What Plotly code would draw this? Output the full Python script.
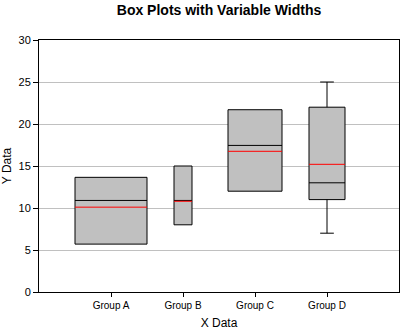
import plotly.graph_objects as go

# Summary statistics for each group
groups = ["Group A", "Group B", "Group C", "Group D"]
positions = [1, 2, 3, 4]
box_widths = [1.0, 0.25, 0.75, 0.5]
q1 = [5.7, 8.0, 12.0, 11.0]
medians = [10.9, 10.9, 17.45, 13.0]
q3 = [13.65, 15.0, 21.7, 22.0]
lower_whisker = [5.7, 8.0, 12.0, 7.0]
upper_whisker = [13.65, 15.0, 21.7, 25.0]
means = [10.1, 10.8, 16.75, 15.2]

fig = go.Figure()

for i, name in enumerate(groups):
    has_whiskers = lower_whisker[i] < q1[i] or upper_whisker[i] > q3[i]
    fig.add_trace(go.Box(
        name=name,
        x=[positions[i]],
        q1=[q1[i]],
        median=[medians[i]],
        q3=[q3[i]],
        lowerfence=[lower_whisker[i]],
        upperfence=[upper_whisker[i]],
        width=box_widths[i],
        whiskerwidth=0.38 if has_whiskers else 0,
        fillcolor="#c0c0c0",
        line=dict(color="black", width=1),
        boxpoints=False,
        showlegend=False,
        hoverinfo="skip",
    ))

# Mean lines drawn in red across each box
for i, name in enumerate(groups):
    half = box_widths[i] / 2
    fig.add_trace(go.Scatter(
        x=[positions[i] - half, positions[i] + half],
        y=[means[i], means[i]],
        mode="lines",
        line=dict(color="red", width=1),
        showlegend=False,
        hoverinfo="skip",
    ))

fig.update_layout(
    width=400,
    height=331,
    margin=dict(l=39, r=1, t=40, b=39),
    paper_bgcolor="white",
    plot_bgcolor="white",
    boxmode="overlay",
    font=dict(family="Arial, Liberation Sans, sans-serif", color="black"),
    title=dict(
        text="<b>Box Plots with Variable Widths</b>",
        font=dict(size=14, color="black"),
        x=0.5475, xanchor="center",
        y=0.985, yanchor="top",
    ),
    xaxis=dict(
        range=[0, 5],
        tickmode="array",
        tickvals=positions,
        ticktext=groups,
        tickfont=dict(size=10),
        ticks="outside",
        ticklen=4,
        tickcolor="black",
        showline=True,
        linecolor="black",
        linewidth=1,
        mirror=True,
        showgrid=False,
        zeroline=False,
        title=dict(text="X Data", font=dict(size=12), standoff=8),
    ),
    yaxis=dict(
        range=[0, 30],
        tickvals=[0, 5, 10, 15, 20, 25, 30],
        tickfont=dict(size=11),
        ticks="outside",
        ticklen=5,
        tickcolor="black",
        showline=True,
        linecolor="black",
        linewidth=1,
        mirror=True,
        showgrid=True,
        gridcolor="#c0c0c0",
        gridwidth=1,
        zeroline=False,
        title=dict(text="Y Data", font=dict(size=12), standoff=6),
    ),
)

fig.write_html("out.html")
